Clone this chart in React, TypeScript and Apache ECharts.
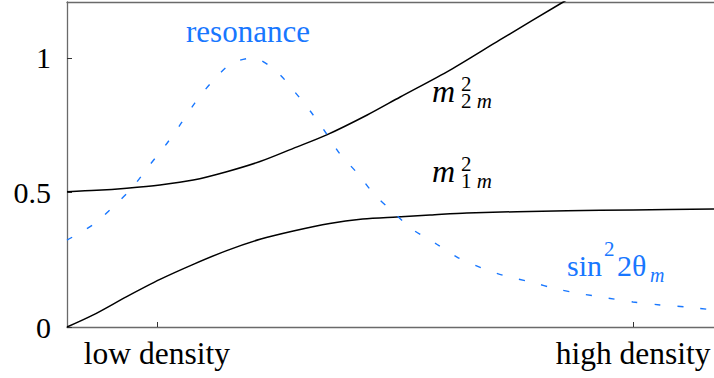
import { useEffect, useRef } from "react";
import * as echarts from "echarts";

// x in arbitrary "log density" units (0..100), y in units of the plot
const xTickValues = [13.9, 87.5];
const xTickLabels = ["low density", "high density"];
const yTickValues = [0, 0.5, 1];

const m2X = [0, 4.6, 9.23, 14.37, 19.52, 24.68, 29.83, 34.98, 40.14, 46.4, 51.5, 59.2, 66.9, 76.7, 80.8];
const m2Y = [0.503, 0.508, 0.516, 0.528, 0.546, 0.577, 0.615, 0.664, 0.714, 0.788, 0.855, 0.955, 1.067, 1.208, 1.267];

const m1X = [0, 4.06, 9.23, 14.37, 19.52, 24.68, 29.83, 34.98, 40.6, 45.7, 51.0, 56.1, 61.8, 77.3, 87.5, 100];
const m1Y = [0, 0.045, 0.113, 0.177, 0.233, 0.284, 0.326, 0.357, 0.385, 0.401, 0.409, 0.416, 0.424, 0.432, 0.435, 0.439];

const sinX = [0, 4.17, 7.26, 10.05, 12.67, 15.15, 17.47, 19.78, 22.26, 25.35, 28.75, 32.46, 35.09, 37.71, 40.03, 42.19, 44.98, 47.45, 50.39, 53.32, 56.88, 60.28, 64.14, 67.7, 71.72, 75.73, 79.6, 83.46, 87.48, 91.65, 95.83, 100];
const sinY = [0.323, 0.383, 0.45, 0.517, 0.599, 0.673, 0.751, 0.833, 0.907, 0.978, 1.0, 0.948, 0.877, 0.799, 0.721, 0.643, 0.569, 0.494, 0.428, 0.364, 0.312, 0.26, 0.219, 0.19, 0.167, 0.141, 0.123, 0.108, 0.093, 0.082, 0.074, 0.063];

const BLUE = "#1877ff";
const FONT = "Liberation Serif";

function zip(xs: number[], ys: number[]) {
  return xs.map((x, i) => [x, ys[i]]);
}

function txt(x: number, baseline: number, text: string, fs: number, fill: string, italic = false, align = "left") {
  return {
    type: "text",
    x,
    y: baseline - 0.3375 * fs,
    silent: true,
    style: {
      text,
      fontFamily: FONT,
      fontSize: fs,
      fontStyle: italic ? "italic" : "normal",
      lineHeight: Math.round(fs * 0.7),
      fill,
      align,
      verticalAlign: "middle",
    },
  };
}

// stacked superscript "2" over subscript "<sub> m"
function stack(x: number, supBaseline: number, subBaseline: number, sub: string, fill: string) {
  const fs = 21;
  const c1 = supBaseline - 0.3375 * fs;
  const c2 = subBaseline - 0.3375 * fs;
  const lh = c2 - c1;
  const base = { fontFamily: FONT, fontSize: fs, lineHeight: lh, fill };
  return {
    type: "text",
    x,
    y: (c1 + c2) / 2,
    silent: true,
    style: {
      text: `{r|2}\n{r|${sub}}{i| m}`,
      align: "left",
      verticalAlign: "middle",
      lineHeight: lh,
      fontFamily: FONT,
      fontSize: fs,
      fill,
      rich: {
        r: { ...base, fontStyle: "normal" },
        i: { ...base, fontStyle: "italic" },
      },
    },
  };
}

export default function App() {
  const ref = useRef<HTMLDivElement>(null);
  useEffect(() => {
    if (!ref.current) return;
    const chart = echarts.init(ref.current, null, { renderer: "svg" });
    const axisLine = { show: true, lineStyle: { color: "#6a6a6a", width: 1.3 } };
    chart.setOption({
      animation: false,
      textStyle: { fontFamily: FONT },
      grid: { left: 67, right: 0, top: 2, bottom: 51 },
      xAxis: [
        {
          type: "value",
          min: 0,
          max: 100,
          position: "bottom",
          axisLine,
          splitLine: { show: false },
          axisTick: { show: true, inside: true, length: 5, customValues: xTickValues, lineStyle: { color: "#333", width: 1 } },
          axisLabel: {
            customValues: xTickValues,
            formatter: (v: number) => {
              const i = xTickValues.findIndex((t) => Math.abs(t - v) < 1e-6);
              return i >= 0 ? xTickLabels[i] : "";
            },
            margin: 10,
            color: "#000",
            fontSize: 31.5,
            fontFamily: FONT,
          },
        },
        {
          type: "value",
          min: 0,
          max: 100,
          position: "top",
          axisLine,
          splitLine: { show: false },
          axisTick: { show: false },
          axisLabel: { show: false },
        },
      ],
      yAxis: {
        type: "value",
        min: 0,
        max: 1.208,
        axisLine,
        splitLine: { show: false },
        axisTick: { show: true, inside: true, length: 5, customValues: yTickValues, lineStyle: { color: "#333", width: 1 } },
        axisLabel: {
          customValues: yTickValues,
          formatter: (v: number) => String(v),
          margin: 16,
          color: "#000",
          fontSize: 30,
          fontFamily: FONT,
        },
      },
      series: [
        {
          type: "line",
          data: zip(m2X, m2Y),
          showSymbol: false,
          smooth: 0.3,
          lineStyle: { color: "#000", width: 1.5 },
          clip: true,
        },
        {
          type: "line",
          data: zip(m1X, m1Y),
          showSymbol: false,
          smooth: 0.3,
          lineStyle: { color: "#000", width: 1.5 },
          clip: true,
        },
        {
          type: "line",
          data: zip(sinX, sinY),
          showSymbol: false,
          smooth: 0.3,
          lineStyle: { color: BLUE, width: 1.4, type: [6, 17] },
          clip: true,
        },
      ],
      graphic: [
        txt(248, 41.7, "resonance", 31, BLUE, false, "center"),
        txt(432, 101.7, "m", 32, "#000", true),
        stack(461, 90.7, 108.2, "2", "#000"),
        txt(432, 181.7, "m", 32, "#000", true),
        stack(461, 170.7, 188.2, "1", "#000"),
        txt(567, 276, "sin", 30, BLUE),
        txt(604, 256, "2", 21, BLUE),
        txt(617, 276, "2θ", 30, BLUE),
        txt(650, 282, "m", 20, BLUE, true),
      ],
    });
    return () => chart.dispose();
  }, []);
  return (
    <div
      ref={ref}
      style={{ position: "absolute", left: 0, top: 0, width: 714, height: 378, background: "#fff" }}
    />
  );
}
